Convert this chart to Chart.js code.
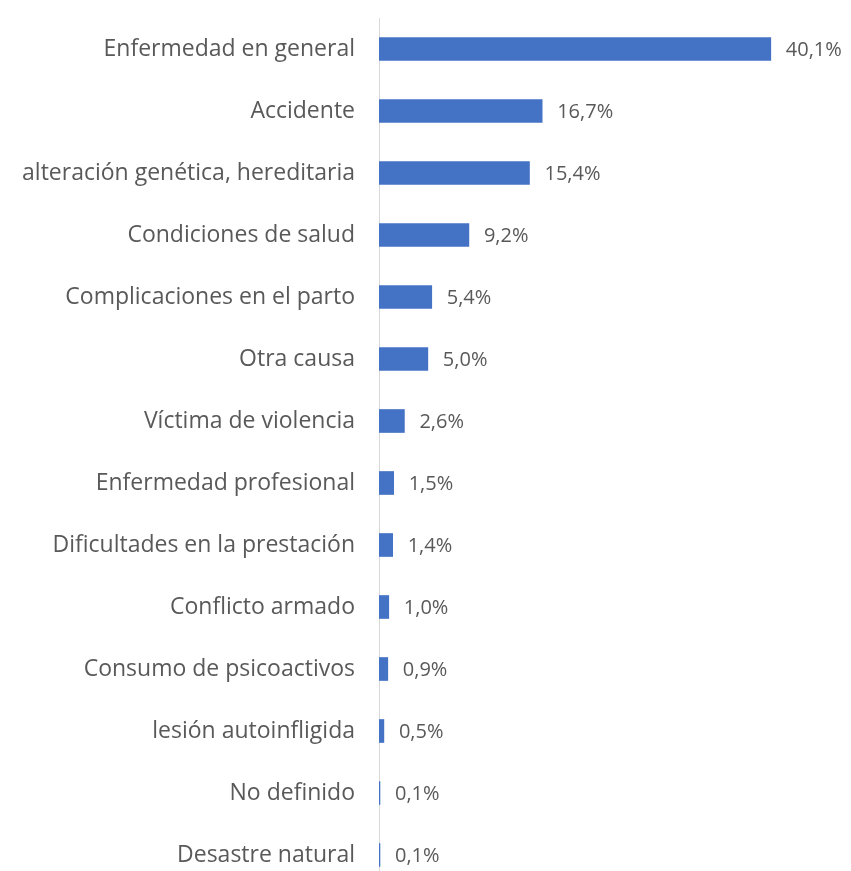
<!DOCTYPE html>
<html>
<head>
<meta charset="utf-8">
<script src="https://cdn.jsdelivr.net/npm/chart.js@4"></script>
<style>
    html, body { margin: 0; padding: 0; background: #fff; overflow: hidden; }
    #wrap { width: 851px; height: 886px; }
</style>
</head>
<body>
<div id="wrap"><canvas id="causeChart" width="851" height="886"></canvas></div>
<script>
const categories = [
    'Enfermedad en general',
    'Accidente',
    'alteración genética, hereditaria',
    'Condiciones de salud',
    'Complicaciones en el parto',
    'Otra causa',
    'Víctima de violencia',
    'Enfermedad profesional',
    'Dificultades en la prestación',
    'Conflicto armado',
    'Consumo de psicoactivos',
    'lesión autoinfligida',
    'No definido',
    'Desastre natural'
];
const percentages = [40.1, 16.7, 15.4, 9.2, 5.4, 5.0, 2.6, 1.5, 1.4, 1.0, 0.9, 0.5, 0.1, 0.1];

const fontFamily = '"Open Sans", Lato, sans-serif';
const textColor = '#595959';

// Draw "40,1%" style labels to the right of each bar
const valueLabels = {
    id: 'valueLabels',
    afterDatasetsDraw(chart) {
        const ctx = chart.ctx;
        const meta = chart.getDatasetMeta(0);
        ctx.save();
        ctx.font = '20px ' + fontFamily;
        ctx.fillStyle = textColor;
        ctx.textAlign = 'left';
        ctx.textBaseline = 'middle';
        meta.data.forEach((bar, i) => {
            const txt = percentages[i].toFixed(1).replace('.', ',') + '%';
            ctx.fillText(txt, bar.x + 15, bar.y + 1);
        });
        ctx.restore();
    }
};

const ctx = document.getElementById('causeChart').getContext('2d');
new Chart(ctx, {
    type: 'bar',
    data: {
        labels: categories,
        datasets: [{
            data: percentages,
            backgroundColor: '#4472C4',
            barThickness: 23
        }]
    },
    options: {
        indexAxis: 'y',
        responsive: false,
        animation: false,
        layout: { padding: { top: 18, right: 3, bottom: 0, left: 0 } },
        plugins: {
            legend: { display: false },
            tooltip: { enabled: false }
        },
        scales: {
            x: {
                display: false,
                min: 0,
                max: 48
            },
            y: {
                afterFit(scale) {
                    scale.width = 379;
                    scale.paddingTop = 0;
                    scale.paddingBottom = 0;
                },
                grid: { display: false, drawTicks: false },
                border: { display: true, color: '#d9d9d9', width: 1 },
                ticks: {
                    color: textColor,
                    padding: 24,
                    font: { family: fontFamily, size: 23 }
                }
            }
        }
    },
    plugins: [valueLabels]
});
</script>
</body>
</html>
